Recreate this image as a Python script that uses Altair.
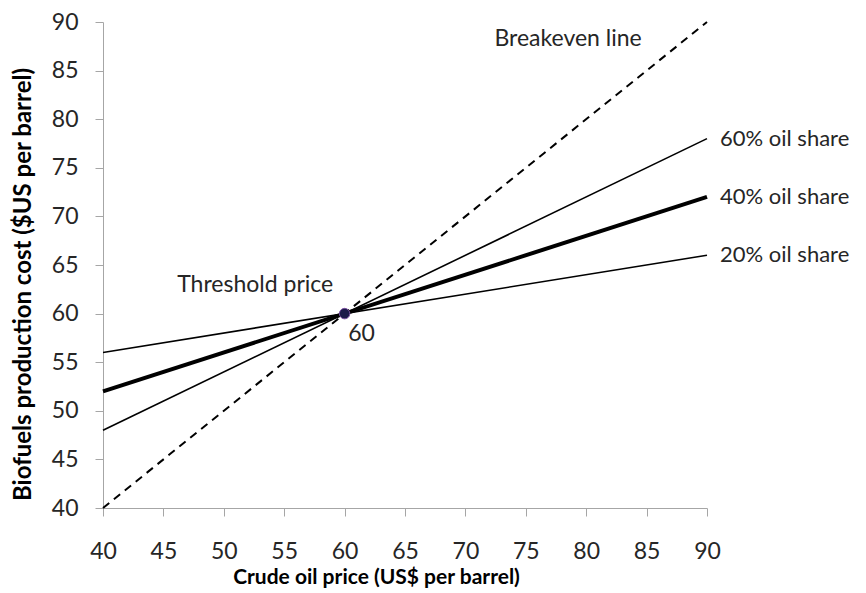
import altair as alt
import pandas as pd

# Data
series_names = ["Breakeven line", "60% oil share", "40% oil share", "20% oil share"]
x_start = [40, 40, 40, 40]
x_end = [90, 90, 90, 90]
y_start = [40, 48, 52, 56]
y_end = [90, 78, 72, 66]

label_texts = ["60% oil share", "40% oil share", "20% oil share"]
label_x = [90, 90, 90]
label_y = [78, 72, 66]

threshold_x = [60]
threshold_y = [60]

annot_texts = ["Breakeven line", "Threshold price", "60"]
annot_x = [78.5, 52.6, 61.4]
annot_y = [88.3, 62.9, 57.9]

rows = []
for n, xs, xe, ys, ye in zip(series_names, x_start, x_end, y_start, y_end):
    rows.append({"series": n, "x": xs, "y": ys})
    rows.append({"series": n, "x": xe, "y": ye})
lines_df = pd.DataFrame(rows)
labels_df = pd.DataFrame({"t": label_texts, "x": label_x, "y": label_y})
point_df = pd.DataFrame({"x": threshold_x, "y": threshold_y})
annot_df = pd.DataFrame({"t": annot_texts, "x": annot_x, "y": annot_y})

FONT = "Lato"
W, H = 604, 486

xscale = alt.Scale(domain=[40, 90], nice=False, zero=False)
yscale = alt.Scale(domain=[40, 90], nice=False, zero=False)

xaxis = alt.Axis(
    title="Crude oil price (US$ per barrel)",
    values=list(range(40, 91, 5)),
    grid=False, domainColor="#a6a6a6", tickColor="#a6a6a6", tickSize=8,
    labelFont=FONT, labelFontSize=23, labelColor="#262626", labelPadding=24,
    labelFlush=False, labelOverlap=False,
    titleFont=FONT, titleFontSize=21, titleFontWeight="bold", titleColor="#000000",
    titleX=273, titleY=69, titleAlign="center", titleBaseline="middle",
)
yaxis = alt.Axis(
    title="Biofuels production cost ($US per barrel)",
    values=list(range(40, 91, 5)),
    grid=False, domainColor="#a6a6a6", tickColor="#a6a6a6", tickSize=8,
    labelFont=FONT, labelFontSize=23, labelColor="#262626", labelPadding=17,
    labelFlush=False, labelOverlap=False,
    titleFont=FONT, titleFontSize=24, titleFontWeight="bold", titleColor="#000000",
    titleX=-80, titleY=262, titleAngle=270, titleAlign="center", titleBaseline="middle",
)

base = alt.Chart(lines_df)


def series_line(name, width, dash=None):
    kw = dict(color="black", strokeWidth=width)
    if dash:
        kw["strokeDash"] = dash
    return base.transform_filter(alt.datum.series == name).mark_line(**kw).encode(
        x=alt.X("x:Q", scale=xscale, axis=xaxis),
        y=alt.Y("y:Q", scale=yscale, axis=yaxis),
    )


l_break = series_line("Breakeven line", 2, [8, 6])
l60 = series_line("60% oil share", 1.6)
l40 = series_line("40% oil share", 4)
l20 = series_line("20% oil share", 1.6)

labels = alt.Chart(labels_df).mark_text(
    align="left", baseline="middle", dx=13, font=FONT, fontSize=22, color="#262626"
).encode(x="x:Q", y="y:Q", text="t:N")

annots = alt.Chart(annot_df).mark_text(
    align="center", baseline="middle", font=FONT, fontSize=23, color="#262626"
).encode(x="x:Q", y="y:Q", text="t:N")

point = alt.Chart(point_df).mark_point(
    filled=True, size=110, color="#1c1a4a", stroke="#7a4fa0", strokeWidth=1, opacity=1
).encode(x="x:Q", y="y:Q")

chart = alt.layer(l_break, l60, l40, l20, point, labels, annots).properties(
    width=W, height=H,
    padding={"left": 95, "top": 14, "right": 150, "bottom": 80},
    autosize="none",
).configure_view(stroke=None)

chart.save("out.html", embed_options={"renderer": "svg", "actions": False})
